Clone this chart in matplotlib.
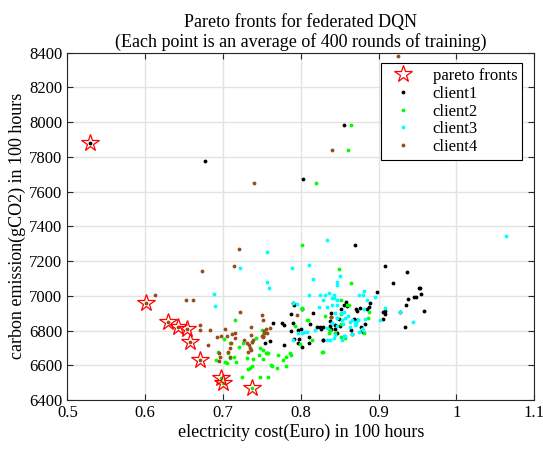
import matplotlib
matplotlib.use("Agg")
import matplotlib.pyplot as plt
import numpy as np

# pareto front points
pareto_x = [0.529, 0.601, 0.629, 0.642, 0.654, 0.657, 0.670, 0.697, 0.700, 0.737]
pareto_y = [7878, 6960, 6847, 6822, 6809, 6736, 6630, 6528, 6500, 6471]

# client1 (black)
c1 = [(0.529, 7878), (0.677, 7776), (0.803, 7671), (0.856, 7984), (0.870, 7291),
      (0.908, 7170), (0.936, 7137), (0.919, 7076), (0.952, 7047), (0.953, 7043),
      (0.898, 7020), (0.955, 7012), (0.946, 6995), (0.948, 6993), (0.938, 6982),
      (0.935, 6945), (0.908, 6911), (0.905, 6907), (0.908, 6893), (0.906, 6866),
      (0.928, 6907), (0.958, 6911), (0.934, 6822), (0.889, 6957), (0.887, 6937),
      (0.858, 6963), (0.856, 6949), (0.859, 6943), (0.851, 6926), (0.871, 6922),
      (0.872, 6913), (0.876, 6932), (0.868, 6868), (0.872, 6859), (0.885, 6922),
      (0.883, 6838), (0.865, 6801), (0.866, 6778), (0.847, 6788), (0.839, 6807),
      (0.880, 6793), (0.877, 6822), (0.879, 6803), (0.828, 6746), (0.811, 6726),
      (0.791, 6949), (0.801, 6926), (0.790, 6957), (0.787, 6895), (0.764, 6842),
      (0.776, 6842), (0.778, 6832), (0.790, 6845), (0.800, 6809), (0.796, 6803),
      (0.788, 6797), (0.812, 6838), (0.816, 6899), (0.821, 6822), (0.824, 6819),
      (0.826, 6807), (0.829, 6820), (0.828, 6744), (0.802, 6707), (0.791, 6750),
      (0.796, 6726), (0.798, 6750), (0.778, 6715), (0.761, 6738), (0.752, 6769),
      (0.754, 6730), (0.837, 6853), (0.839, 6899), (0.839, 6876), (0.837, 6803),
      (0.838, 6828), (0.844, 6834), (0.849, 6865), (0.850, 6828), (0.844, 6809),
      (0.810, 6765)]

# client2 (green)
c2 = [(0.865, 7984), (0.860, 7838), (0.820, 7648), (0.802, 7294), (0.849, 7156),
      (0.865, 7072), (0.852, 6976), (0.859, 6945), (0.862, 6947), (0.888, 6907),
      (0.886, 6870), (0.851, 6893), (0.881, 6788), (0.857, 6759), (0.851, 6765),
      (0.808, 6861), (0.828, 6678), (0.801, 6926), (0.715, 6861), (0.701, 6750),
      (0.709, 6726), (0.720, 6707), (0.726, 6730), (0.737, 6736), (0.743, 6755),
      (0.751, 6774), (0.750, 6803), (0.748, 6698), (0.752, 6688), (0.756, 6672),
      (0.706, 6669), (0.709, 6640), (0.714, 6649), (0.703, 6620), (0.705, 6611),
      (0.691, 6630), (0.717, 6617), (0.725, 6534), (0.732, 6577), (0.735, 6583),
      (0.737, 6596), (0.748, 6534), (0.731, 6640), (0.739, 6634), (0.746, 6659),
      (0.751, 6634), (0.758, 6669), (0.801, 6928), (0.792, 6826), (0.809, 6861),
      (0.831, 6884), (0.827, 6678), (0.814, 6746), (0.799, 6722), (0.755, 6672),
      (0.771, 6659), (0.786, 6669), (0.788, 6657), (0.781, 6649), (0.777, 6630),
      (0.763, 6596), (0.770, 6582), (0.762, 6600), (0.781, 6596), (0.758, 6532),
      (0.836, 6784), (0.838, 6803), (0.844, 6788), (0.851, 6838), (0.693, 6678),
      (0.697, 6528), (0.700, 6500), (0.737, 6471)]

# client3 (cyan)
c3 = [(1.064, 7346), (0.833, 7321), (0.789, 7158), (0.810, 7179), (0.816, 7097),
      (0.756, 7250), (0.722, 7162), (0.756, 7080), (0.759, 7045), (0.689, 7009),
      (0.690, 6941), (0.850, 7116), (0.847, 7078), (0.846, 7062), (0.881, 7028),
      (0.875, 7005), (0.880, 7005), (0.895, 6995), (0.885, 6976), (0.842, 6986),
      (0.881, 6924), (0.928, 6905), (0.902, 6861), (0.944, 6849), (0.908, 6932),
      (0.856, 6909), (0.844, 6899), (0.846, 6874), (0.853, 6861), (0.857, 6870),
      (0.840, 6841), (0.846, 6826), (0.854, 6838), (0.863, 6822), (0.870, 6851),
      (0.873, 6859), (0.883, 6866), (0.863, 6847), (0.844, 6774), (0.857, 6768),
      (0.879, 6807), (0.838, 6746), (0.842, 6755), (0.853, 6746), (0.804, 6790),
      (0.796, 6786), (0.790, 6746), (0.855, 6768), (0.866, 6778), (0.875, 6793),
      (0.880, 6803), (0.870, 6834), (0.866, 6861), (0.874, 6861), (0.871, 6836),
      (0.861, 6884), (0.811, 7005), (0.825, 7005), (0.831, 7005), (0.836, 7014),
      (0.842, 7005), (0.829, 6976), (0.823, 6938), (0.833, 6938), (0.840, 6947),
      (0.847, 6947), (0.840, 6986), (0.847, 6976), (0.790, 6957), (0.795, 6953),
      (0.808, 6793), (0.818, 6803), (0.833, 6813), (0.840, 6841), (0.847, 6870),
      (0.851, 6899), (0.833, 6746), (0.801, 6784)]

# client4 (brown)
c4 = [(0.925, 8381), (0.840, 7838), (0.740, 7648), (0.721, 7268), (0.714, 7173),
      (0.673, 7141), (0.613, 7003), (0.652, 6974), (0.662, 6974), (0.722, 6905),
      (0.671, 6832), (0.671, 6803), (0.683, 6801), (0.750, 6889), (0.752, 6861),
      (0.755, 6807), (0.753, 6799), (0.756, 6784), (0.751, 6765), (0.761, 6813),
      (0.795, 6889), (0.839, 6876), (0.703, 6807), (0.697, 6769), (0.692, 6765),
      (0.705, 6769), (0.711, 6780), (0.716, 6784), (0.716, 6759), (0.710, 6726),
      (0.709, 6701), (0.707, 6675), (0.709, 6646), (0.727, 6746), (0.731, 6730),
      (0.733, 6717), (0.735, 6701), (0.736, 6688), (0.732, 6678), (0.737, 6736),
      (0.739, 6746), (0.736, 6774), (0.750, 6769), (0.753, 6788), (0.695, 6672),
      (0.696, 6649), (0.695, 6624), (0.736, 6819), (0.681, 6717), (0.601, 6960),
      (0.629, 6847), (0.642, 6822), (0.654, 6809), (0.657, 6736), (0.670, 6630)]

clients = [c1, c2, c3, c4]
labels = ['client1', 'client2', 'client3', 'client4']
colors = ['k', (0, 1, 0), (0, 1, 1), (0.6, 0.3, 0.1)]

plt.rcParams['font.family'] = ['Liberation Serif', 'DejaVu Serif']

fig = plt.figure(figsize=(5.43, 4.53), dpi=100)
ax = fig.add_axes([0.124, 0.117, 0.860, 0.767])

handles = []
for pts, lab, col in zip(clients, labels, colors):
    arr = np.array(pts)
    h, = ax.plot(arr[:, 0], arr[:, 1], '.', color=col, markersize=3.5, label=lab)
    handles.append(h)

hp, = ax.plot(pareto_x, pareto_y, linestyle='none', marker='*', markersize=13,
              markerfacecolor='none', markeredgecolor='red', markeredgewidth=0.9,
              label='pareto fronts')

ax.set_xlim(0.5, 1.1)
ax.set_ylim(6400, 8400)
ax.set_xticks(np.arange(0.5, 1.11, 0.1))
ax.set_xticklabels(['0.5', '0.6', '0.7', '0.8', '0.9', '1', '1.1'])
ax.set_yticks(np.arange(6400, 8401, 200))

ax.grid(True, color='#e3e3e3', linewidth=1.0)
ax.set_axisbelow(True)
ax.tick_params(direction='in', top=True, right=True, length=4, width=0.8,
               labelsize=12, colors='#262626', labelcolor='black')
for s in ax.spines.values():
    s.set_color('#262626')
    s.set_linewidth(0.8)

ax.set_xlabel('electricity cost(Euro) in 100 hours', fontsize=13, labelpad=2)
ax.set_ylabel('carbon emission(gCO2) in 100 hours', fontsize=13, labelpad=2)
ax.set_title('Pareto fronts for federated DQN\n(Each point is an average of 400 rounds of training)',
             fontsize=13, pad=4, linespacing=1.15)

leg = ax.legend([hp] + handles, ['pareto fronts'] + labels, loc='upper right',
                bbox_to_anchor=(0.974, 0.969), borderaxespad=0, fontsize=12,
                fancybox=False, framealpha=1, edgecolor='black',
                handlelength=2.0, labelspacing=0.1, borderpad=0.3, handletextpad=0.8)
leg.get_frame().set_linewidth(0.8)

fig.savefig('out.png', dpi=100)
